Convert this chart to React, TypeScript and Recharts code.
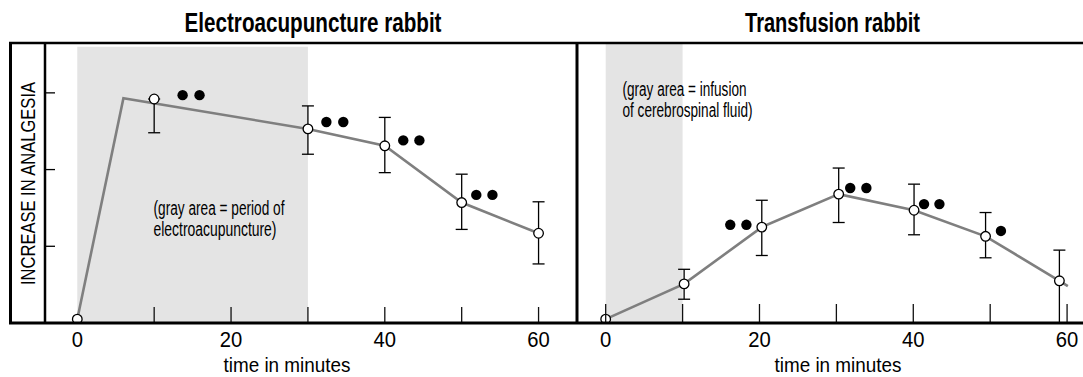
import React from 'react';
import { ComposedChart, Line, Scatter, XAxis, YAxis, ReferenceArea, ErrorBar } from 'recharts';

const FONT = '"Liberation Sans", Arial, sans-serif';

// axes
const minuteTicks = [0, 10, 20, 30, 40, 50, 60];
const minuteLabels = [0, 20, 40, 60];
const analgesiaTicks = [0, 1, 2, 3];

// Electroacupuncture rabbit
const eaTime = [0, 10, 30, 40, 50, 60];
const eaMean = [0.05, 2.92, 2.53, 2.31, 1.57, 1.17];
const eaErrLow = [null, 0.44, 0.33, 0.35, 0.35, 0.4];
const eaErrHigh = [null, 0, 0.3, 0.37, 0.37, 0.41];
const eaLineTime = [0, 6, 30, 40, 50, 60];
const eaLineValue = [0.05, 2.93, 2.53, 2.31, 1.57, 1.17];
const eaSigTime = [13.7, 15.9, 32.4, 34.6, 42.4, 44.5, 51.9, 54.0];
const eaSigValue = [2.97, 2.97, 2.62, 2.62, 2.38, 2.38, 1.67, 1.67];
const eaGray = [0, 30];

// Transfusion rabbit
const tfTime = [0, 10.2, 20.3, 30.3, 40.1, 49.4, 59.0];
const tfMean = [0.05, 0.51, 1.25, 1.68, 1.47, 1.13, 0.55];
const tfErrLow = [null, 0.2, 0.37, 0.37, 0.32, 0.28, 0.55];
const tfErrHigh = [null, 0.19, 0.35, 0.34, 0.34, 0.31, 0.4];
const tfLineTime = [0, 10.2, 20.3, 30.3, 40.1, 49.4, 59.0, 60.1];
const tfLineValue = [0.05, 0.51, 1.25, 1.68, 1.47, 1.13, 0.55, 0.48];
const tfSigTime = [16.2, 18.3, 31.8, 33.9, 41.4, 43.4, 51.4];
const tfSigValue = [1.28, 1.28, 1.76, 1.76, 1.55, 1.55, 1.2];
const tfGray = [0, 10];

const toPoints = (t: number[], v: number[], lo?: (number | null)[], hi?: (number | null)[]) =>
  t.map((x, i) => ({
    t: x,
    v: v[i],
    err: lo && hi && lo[i] != null ? [lo[i], hi[i]] : undefined,
  }));

const OpenDot = (p: any) => (
  <circle cx={p.cx} cy={p.cy} r={4.8} fill="#fff" stroke="#000" strokeWidth={1.3} />
);
const SigDot = (p: any) => <circle cx={p.cx} cy={p.cy} r={5.2} fill="#000" />;

function TimeTick({ x, y, payload, len, zero }: any) {
  const v = payload.value;
  return (
    <g>
      {(v !== 0 || zero) && (
        <line x1={x} x2={x} y1={y - 1} y2={y - len} stroke="#111" strokeWidth={1.3} />
      )}
      {minuteLabels.includes(v) && (
        <text
          x={x}
          y={y + 24}
          textAnchor="middle"
          fontSize={22}
          fontFamily={FONT}
          fill="#000"
          transform={`translate(${x} 0) scale(0.92 1) translate(${-x} 0)`}
        >
          {v}
        </text>
      )}
    </g>
  );
}

function AnalgesiaTick({ x, y }: any) {
  return <line x1={x} x2={x + 10} y1={y} y2={y} stroke="#000" strokeWidth={1.3} />;
}

interface PanelProps {
  width: number;
  domain: [number, number];
  points: { t: number; v: number }[];
  line: { t: number; v: number }[];
  sig: { t: number; v: number }[];
  gray: number[];
  grayTop: number;
  tickLen: number;
  zeroTick: boolean;
  yAxis: boolean;
}

function Panel({ width, domain, points, line, sig, gray, grayTop, tickLen, zeroTick, yAxis }: PanelProps) {
  return (
    <ComposedChart width={width} height={377} margin={{ top: 43, right: 0, bottom: 0, left: 0 }}>
      <XAxis
        dataKey="t"
        type="number"
        domain={domain}
        allowDataOverflow
        ticks={minuteTicks}
        interval={0}
        height={54}
        axisLine={false}
        tickLine={false}
        tickSize={0}
        tickMargin={0}
        tick={(p: any) => <TimeTick {...p} len={tickLen} zero={zeroTick} />}
      />
      <YAxis
        type="number"
        domain={[0, 3.65]}
        allowDataOverflow
        ticks={analgesiaTicks}
        interval={0}
        width={yAxis ? 45 : 0}
        hide={!yAxis}
        axisLine={{ stroke: '#000', strokeWidth: 2.5 }}
        tickLine={false}
        tickSize={0}
        tickMargin={0}
        tick={(p: any) => <AnalgesiaTick {...p} />}
      />
      <ReferenceArea
        x1={gray[0]}
        x2={gray[1]}
        y1={0}
        y2={grayTop}
        fill="#e4e4e4"
        fillOpacity={1}
        stroke="none"
        ifOverflow="hidden"
      />
      <Line
        data={line}
        dataKey="v"
        type="linear"
        stroke="#7f7f7f"
        strokeWidth={2.6}
        dot={false}
        activeDot={false}
        isAnimationActive={false}
      />
      <Scatter data={points} dataKey="v" shape={OpenDot} isAnimationActive={false}>
        <ErrorBar dataKey="err" direction="y" width={6} stroke="#000" strokeWidth={1.3} />
      </Scatter>
      <Scatter data={sig} dataKey="v" shape={SigDot} isAnimationActive={false} />
    </ComposedChart>
  );
}

function SqText({ x, y, w, size, weight, anchor, children }: any) {
  return (
    <text
      x={x}
      y={y}
      fontSize={size}
      fontWeight={weight || 'normal'}
      fontFamily={FONT}
      textAnchor={anchor || 'start'}
      textLength={w}
      lengthAdjust="spacingAndGlyphs"
      fill="#000"
    >
      {children}
    </text>
  );
}

export default function App() {
  return (
    <div style={{ position: 'absolute', left: 0, top: 0, width: 1083, height: 377, background: '#fff', overflow: 'hidden' }}>
      <div style={{ position: 'absolute', left: 0, top: 0 }}>
        <Panel
          width={577}
          domain={[-4.2, 65.0]}
          points={toPoints(eaTime, eaMean, eaErrLow, eaErrHigh)}
          line={toPoints(eaLineTime, eaLineValue)}
          sig={toPoints(eaSigTime, eaSigValue)}
          gray={eaGray}
          grayTop={3.6}
          tickLen={16}
          zeroTick={false}
          yAxis
        />
      </div>
      <div style={{ position: 'absolute', left: 578, top: 0 }}>
        <Panel
          width={505}
          domain={[-3.6, 62.07]}
          points={toPoints(tfTime, tfMean, tfErrLow, tfErrHigh)}
          line={toPoints(tfLineTime, tfLineValue)}
          sig={toPoints(tfSigTime, tfSigValue)}
          gray={tfGray}
          grayTop={3.65}
          tickLen={19}
          zeroTick
          yAxis={false}
        />
      </div>
      <svg width={1083} height={377} style={{ position: 'absolute', left: 0, top: 0, pointerEvents: 'none' }}>
        <line x1={9} x2={1083} y1={43} y2={43} stroke="#000" strokeWidth={2.5} />
        <line x1={9} x2={1083} y1={323} y2={323} stroke="#000" strokeWidth={3} />
        <line x1={10.5} x2={10.5} y1={42} y2={324} stroke="#000" strokeWidth={3} />
        <line x1={577} x2={577} y1={42} y2={324} stroke="#000" strokeWidth={3} />

        <SqText x={313} y={32} w={257} size={28} weight="bold" anchor="middle">Electroacupuncture rabbit</SqText>
        <SqText x={832.5} y={32} w={175} size={28} weight="bold" anchor="middle">Transfusion rabbit</SqText>

        <g transform="translate(35 183.5) rotate(-90)">
          <SqText x={0} y={0} w={203} size={20} anchor="middle">INCREASE IN ANALGESIA</SqText>
        </g>

        <SqText x={153.5} y={215} w={131} size={19.5}>(gray area = period of</SqText>
        <SqText x={153.5} y={236} w={123} size={19.5}>electroacupuncture)</SqText>
        <SqText x={622.5} y={96} w={124} size={19.5}>(gray area = infusion</SqText>
        <SqText x={622.5} y={117} w={130} size={19.5}>of cerebrospinal fluid)</SqText>

        <SqText x={287} y={372} w={127} size={20.5} anchor="middle">time in minutes</SqText>
        <SqText x={838} y={372} w={127} size={20.5} anchor="middle">time in minutes</SqText>
      </svg>
    </div>
  );
}
